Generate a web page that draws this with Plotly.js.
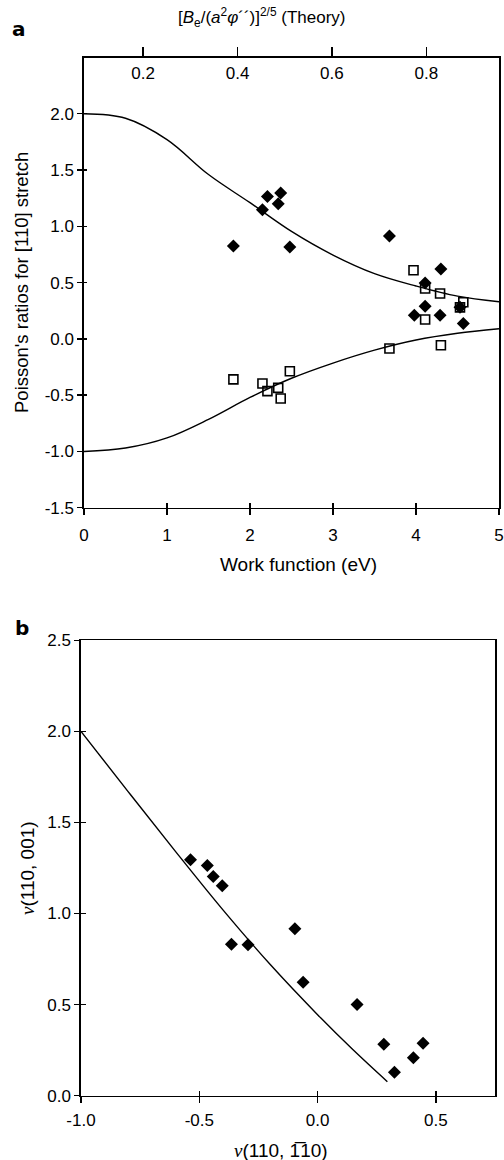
<!DOCTYPE html>
<html>
<head>
<meta charset="utf-8">
<script src="https://cdn.plot.ly/plotly-3.0.1.min.js"></script>
<style>
html,body{margin:0;padding:0;background:#fff;}
#chart{width:504px;height:1160px;}
</style>
</head>
<body>
<div id="chart"></div>
<script>
// ---- Panel a: theory curves (work function in eV) ----
const workFn = [0, 0.5, 1.0, 1.5, 2.0, 2.5, 3.0, 3.5, 4.0, 4.5, 5.0];
const upperTheory = [2.0, 1.96, 1.77, 1.46, 1.21, 0.955, 0.745, 0.58, 0.47, 0.38, 0.33];
const lowerTheory = [-1.0, -0.97, -0.88, -0.715, -0.52, -0.35, -0.215, -0.10, -0.01, 0.05, 0.09];

// ---- Panel a: measured points ----
const diamondX = [1.80, 2.15, 2.21, 2.34, 2.37, 2.48, 3.68, 3.98, 4.11, 4.11, 4.29, 4.30, 4.53, 4.57];
const diamondY = [0.825, 1.148, 1.266, 1.20, 1.295, 0.816, 0.914, 0.21, 0.497, 0.29, 0.21, 0.621, 0.28, 0.137];
const squareX = [1.80, 2.15, 2.21, 2.34, 2.37, 2.48, 3.68, 3.97, 4.11, 4.11, 4.29, 4.30, 4.53, 4.57];
const squareY = [-0.36, -0.396, -0.464, -0.435, -0.53, -0.287, -0.085, 0.61, 0.447, 0.172, 0.403, -0.056, 0.28, 0.325];

// ---- Panel b ----
const bLineX = [-1.0, -0.8, -0.6, -0.4, -0.2, 0.0, 0.15, 0.295];
const bLineY = [2.0, 1.668, 1.34, 1.02, 0.72, 0.445, 0.252, 0.077];
const bPtsX = [-0.537, -0.466, -0.441, -0.403, -0.364, -0.294, -0.096, -0.061, 0.167, 0.280, 0.325, 0.405, 0.446];
const bPtsY = [1.295, 1.264, 1.203, 1.152, 0.832, 0.828, 0.916, 0.623, 0.50, 0.282, 0.129, 0.209, 0.288];

// ---- Tick labels ----
const aXTickVals = [0, 1, 2, 3, 4, 5];
const aXTickText = ['0', '1', '2', '3', '4', '5'];
const aTopTickVals = [0.2, 0.4, 0.6, 0.8];
const aTopTickText = ['0.2', '0.4', '0.6', '0.8'];
const aYTickVals = [-1.5, -1.0, -0.5, 0.0, 0.5, 1.0, 1.5, 2.0, 2.5];
const aYTickText = ['-1.5', '-1.0', '-0.5', '0.0', '0.5', '1.0', '1.5', '2.0', '2.5'];
const bXTickVals = [-1.0, -0.5, 0.0, 0.5];
const bXTickText = ['-1.0', '-0.5', '0.0', '0.5'];
const bYTickVals = [0.0, 0.5, 1.0, 1.5, 2.0, 2.5];
const bYTickText = ['0.0', '0.5', '1.0', '1.5', '2.0', '2.5'];

const W = 504, H = 1160;
const px = v => v / W;
const py = v => 1 - v / H;

const FONT = 'Liberation Sans, Arial, Helvetica, sans-serif';
const lineStyle = {color: 'black', width: 1.4, shape: 'spline', smoothing: 1};
const diamondMarker = {symbol: 'diamond', size: 10, color: 'black'};
const squareMarker = {symbol: 'square-open', size: 9, color: 'black', line: {width: 1.6, color: 'black'}};

const traces = [
  {x: workFn, y: upperTheory, mode: 'lines', line: lineStyle, xaxis: 'x', yaxis: 'y', hoverinfo: 'skip'},
  {x: workFn, y: lowerTheory, mode: 'lines', line: lineStyle, xaxis: 'x', yaxis: 'y', hoverinfo: 'skip'},
  {x: diamondX, y: diamondY, mode: 'markers', marker: diamondMarker, xaxis: 'x', yaxis: 'y'},
  {x: squareX, y: squareY, mode: 'markers', marker: squareMarker, xaxis: 'x', yaxis: 'y'},
  {x: bLineX, y: bLineY, mode: 'lines', line: lineStyle, xaxis: 'x3', yaxis: 'y3', hoverinfo: 'skip'},
  {x: bPtsX, y: bPtsY, mode: 'markers', marker: diamondMarker, xaxis: 'x3', yaxis: 'y3'},
  // invisible helpers so overlay axes get drawn
  {x: [null], y: [null], mode: 'markers', xaxis: 'x2', yaxis: 'y', hoverinfo: 'skip'},
  {x: [null], y: [null], mode: 'markers', xaxis: 'x4', yaxis: 'y4', hoverinfo: 'skip'},
  {x: [null], y: [null], mode: 'markers', xaxis: 'x5', yaxis: 'y5', hoverinfo: 'skip'}
];

const axBase = {
  showgrid: false, zeroline: false, showline: true, linecolor: 'black', linewidth: 1.6,
  ticks: 'outside', ticklen: 6, tickwidth: 1.4, tickcolor: 'black',
  tickfont: {family: FONT, size: 17, color: 'black'},
  fixedrange: true
};
const innerBase = {
  showgrid: false, zeroline: false, showline: false, showticklabels: false,
  ticks: 'inside', ticklen: 5, tickwidth: 1.4, tickcolor: 'black', fixedrange: true
};

const aXdom = [px(84), px(499)];
const aYdom = [py(507.7), py(57.5)];
const bXdom = [px(81), px(495)];
const bYdom = [py(1095.7), py(640.3)];

const layout = {
  width: W, height: H,
  margin: {l: 0, r: 0, t: 0, b: 0},
  paper_bgcolor: 'white', plot_bgcolor: 'rgba(0,0,0,0)',
  showlegend: false,
  font: {family: FONT, size: 17, color: 'black'},
  xaxis: Object.assign({}, axBase, {domain: aXdom, anchor: 'y', range: [0, 5],
    tickvals: aXTickVals, ticktext: aXTickText, ticklabelstandoff: 5}),
  xaxis2: Object.assign({}, axBase, {overlaying: 'x', anchor: 'y', side: 'top',
    range: [0.0747, 0.954], tickvals: aTopTickVals, ticktext: aTopTickText,
    ticklen: 9, ticklabelposition: 'inside', ticklabelstandoff: 10}),
  yaxis: Object.assign({}, axBase, {domain: aYdom, anchor: 'x', range: [-1.5, 2.5],
    tickvals: aYTickVals, ticktext: aYTickText, mirror: true, ticklen: 5}),
  xaxis4: Object.assign({}, innerBase, {overlaying: 'x', anchor: 'y4', range: [0, 5], tickvals: aXTickVals}),
  yaxis4: Object.assign({}, innerBase, {overlaying: 'y', anchor: 'x4', range: [-1.5, 2.5], tickvals: aYTickVals, ticklen: 3}),
  xaxis3: Object.assign({}, axBase, {domain: bXdom, anchor: 'y3', range: [-1.0, 0.75],
    tickvals: bXTickVals, ticktext: bXTickText, mirror: true, ticklabelstandoff: 2}),
  yaxis3: Object.assign({}, axBase, {domain: bYdom, anchor: 'x3', range: [0, 2.5],
    tickvals: bYTickVals, ticktext: bYTickText, mirror: true, ticklen: 5}),
  xaxis5: Object.assign({}, innerBase, {overlaying: 'x3', anchor: 'y5', range: [-1.0, 0.75], tickvals: bXTickVals}),
  yaxis5: Object.assign({}, innerBase, {overlaying: 'y3', anchor: 'x5', range: [0, 2.5], tickvals: bYTickVals}),
  annotations: [
    {text: '<b>a</b>', x: px(19), y: py(29), xref: 'paper', yref: 'paper', showarrow: false,
     xanchor: 'center', yanchor: 'middle', font: {size: 20, family: 'DejaVu Sans, Liberation Sans, sans-serif'}},
    {text: '<b>b</b>', x: px(22), y: py(628), xref: 'paper', yref: 'paper', showarrow: false,
     xanchor: 'center', yanchor: 'middle', font: {size: 20, family: 'DejaVu Sans, Liberation Sans, sans-serif'}},
    {text: '[<i>B</i><sub>e</sub>/(<i>a</i><sup>2</sup><i>φ</i>´´)]<sup>2/5</sup> (Theory)',
     x: px(262), y: py(17), xref: 'paper', yref: 'paper', showarrow: false,
     xanchor: 'center', yanchor: 'middle', font: {size: 17}},
    {text: "Poisson's ratios for [110] stretch", x: px(22), y: py(283), xref: 'paper', yref: 'paper',
     showarrow: false, textangle: -90, xanchor: 'center', yanchor: 'middle', font: {size: 18.5}},
    {text: 'Work function (eV)', x: px(298), y: py(565), xref: 'paper', yref: 'paper',
     showarrow: false, xanchor: 'center', yanchor: 'middle', font: {size: 19}},
    {text: '<span style="font-family:Liberation Serif,serif"><i>ν</i></span>(110, 001)', x: px(27), y: py(868),
     xref: 'paper', yref: 'paper', showarrow: false, textangle: -90, xanchor: 'center', yanchor: 'middle', font: {size: 19}},
    {text: '<span style="font-family:Liberation Serif,serif"><i>ν</i></span>(110, 1\u030510)', x: px(281), y: py(1150),
     xref: 'paper', yref: 'paper', showarrow: false, xanchor: 'center', yanchor: 'middle', font: {size: 19}}
  ]
};

Plotly.newPlot('chart', traces, layout, {staticPlot: true, displayModeBar: false});
</script>
</body>
</html>
